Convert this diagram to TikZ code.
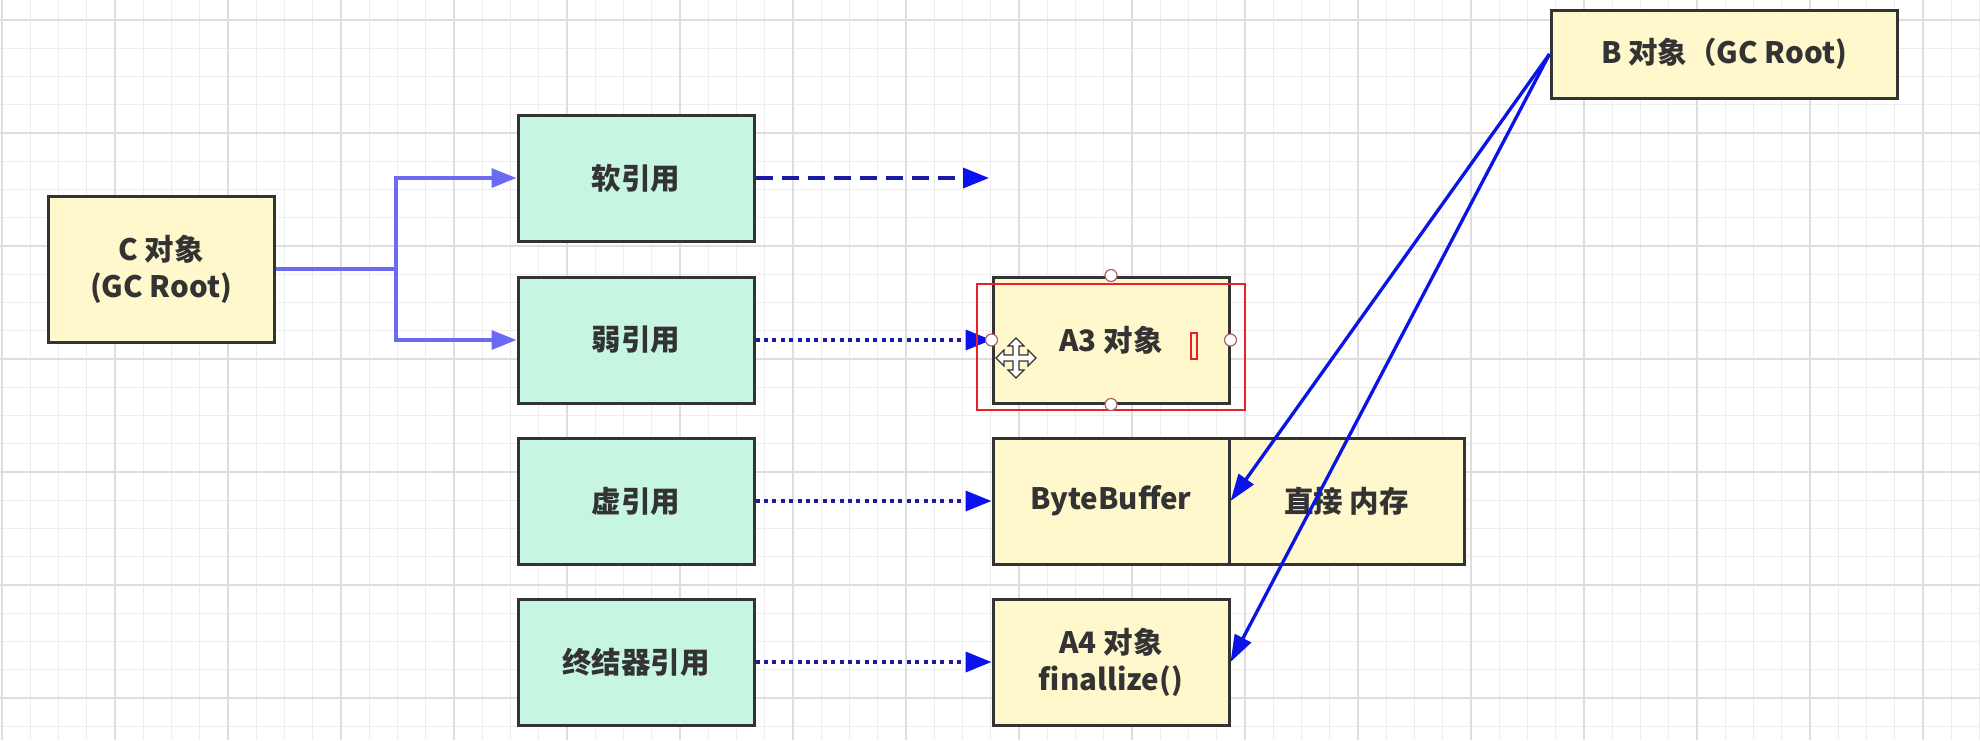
\documentclass[tikz,border=0pt]{standalone}
\usepackage{fontspec}
\newfontfamily\cjk{Noto Sans CJK SC}
\usetikzlibrary{arrows.meta,calc}
\definecolor{cream}{HTML}{FFF8CC}
\definecolor{mint}{HTML}{C6F5E2}
\definecolor{edge}{HTML}{333333}
\definecolor{linkblue}{HTML}{6A6AF4}
\definecolor{navy}{HTML}{1A1AA6}
\definecolor{tipblue}{HTML}{0A10F0}
\definecolor{rootblue}{HTML}{0A14E6}
\definecolor{gridminor}{HTML}{EDEDED}
\definecolor{gridmajor}{HTML}{DEDEDE}
\definecolor{selred}{HTML}{E8202A}
\definecolor{handle}{HTML}{A86060}

\begin{document}
\begin{tikzpicture}[x=1pt,y=-1pt,
  box/.style={draw=edge, line width=3pt, inner sep=0pt, align=center,
    font=\cjk\bfseries\fontsize{29.5}{37}\selectfont, text=edge},
  obj/.style={box, fill=cream},
  cell/.style={minimum width=236pt, minimum height=126pt},
  refbox/.style={box, fill=mint, cell},
  cline/.style={draw=linkblue, line width=3.2pt},
  ctip/.style={-{Triangle[length=25pt,width=19pt]}},
  dashlink/.style={draw=navy, line width=3.5pt, dash pattern=on 17pt off 9pt,
    -{Triangle[length=26pt,width=20pt,color=tipblue]}},
  dotlink/.style={draw=navy, line width=3.5pt, dash pattern=on 4pt off 4.4pt,
    -{Triangle[length=26pt,width=20pt,color=tipblue]}},
  rootlink/.style={draw=rootblue, line width=3.3pt,
    -{Triangle[length=27pt,width=18pt]}},
  grip/.style={draw=handle, fill=white, line width=1.2pt},
]
% page and background grid
\useasboundingbox (0,0) rectangle (1980,740);
\fill[white] (0,0) rectangle (1980,740);
\foreach \k in {0,...,70} {
  \draw[gridminor, line width=1.2pt] ({2+28.25*\k},0) -- ({2+28.25*\k},740);
}
\foreach \k in {0,...,26} {
  \draw[gridminor, line width=1.2pt] (0,{20+28.25*\k}) -- (1980,{20+28.25*\k});
}
\foreach \k in {0,...,17} {
  \draw[gridmajor, line width=2pt] ({2+113*\k},0) -- ({2+113*\k},740);
}
\foreach \k in {0,...,6} {
  \draw[gridmajor, line width=2pt] (0,{20+113*\k}) -- (1980,{20+113*\k});
}

% roots
\node[obj, minimum width=226pt, minimum height=146pt] (c) at (161,269) {C 对象\\(GC Root)};
\node[obj, minimum width=346pt, minimum height=88pt] (b) at (1724,54) {B 对象（GC Root)};

% reference objects
\node[refbox] (soft) at (636,178) {软引用};
\node[refbox] (weak) at (636,340) {弱引用};
\node[refbox] (phan) at (636,501) {虚引用};
\node[refbox] (fin)  at (636,662) {终结器引用};

% referents
\node[obj, cell] (a3) at (1111,340) {A3 对象};
\node[obj, cell] (bb) at (1111,501) {ByteBuffer};
\node[obj, cell, minimum width=235pt] (mem) at (1346.5,501) {直接 内存};
\node[obj, cell] (a4) at (1111,662) {A4 对象\\finallize()};

% C holds the soft and weak references
\coordinate (fork) at (396,269);
\coordinate (softend) at (989,178);
\draw[cline] (c.east) -- (fork);
\draw[cline, ctip] (fork) |- (soft.west);
\draw[cline, ctip] (fork) |- (weak.west);

% references to their referents
\draw[dashlink] (soft.east) -- (softend);
\draw[dotlink] (weak.east) -- (a3.west);
\draw[dotlink] (phan.east) -- (bb.west);
\draw[dotlink] (fin.east) -- (a4.west);

% strong references from B
\draw[rootlink] (b.west) -- (bb.east);
\draw[rootlink] (b.west) -- (a4.east);

% selection frame on A3
\draw[selred, line width=1.6pt] (977,284) rectangle (1245,410);
\draw[selred, line width=1.2pt] (1191,333) rectangle (1197,359);
\draw[grip] (a3.north) circle (6pt);
\draw[grip] (a3.south) circle (6pt);
\draw[grip] (a3.west) circle (6pt);
\draw[grip] (a3.east) circle (6pt);
% move cursor
\begin{scope}[shift={(1016,358)}]
\draw[fill=white, draw=edge, line width=1.2pt]
  (0,-20) -- (8,-12) -- (3,-12) -- (3,-3) -- (12,-3) -- (12,-8) -- (20,0)
  -- (12,8) -- (12,3) -- (3,3) -- (3,12) -- (8,12) -- (0,20) -- (-8,12)
  -- (-3,12) -- (-3,3) -- (-12,3) -- (-12,8) -- (-20,0) -- (-12,-8)
  -- (-12,-3) -- (-3,-3) -- (-3,-12) -- (-8,-12) -- cycle;
\end{scope}
\end{tikzpicture}
\end{document}
